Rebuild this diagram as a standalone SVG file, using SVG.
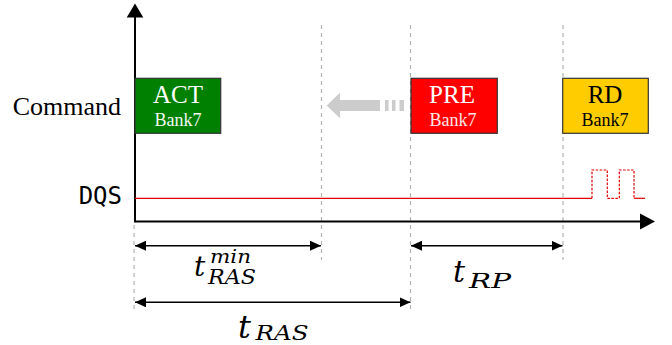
<svg xmlns="http://www.w3.org/2000/svg" width="672" height="345" viewBox="0 0 672 345">
<defs>
<style>
.guide{stroke:#b3b3b3;stroke-width:1.2;stroke-dasharray:4,4;fill:none}
.axis{stroke:#000;stroke-width:2;fill:none}
.dim{stroke:#000;stroke-width:1.5;fill:none}
.serif{font-family:"Liberation Serif","Times New Roman",serif}
.math{font-family:"DejaVu Serif","Liberation Serif",serif;font-style:italic;font-weight:normal;fill:#000}
.box{stroke:#333;stroke-width:1.2}
</style>
<marker id="ah" viewBox="0 0 11 10" refX="11" refY="5" markerWidth="11" markerHeight="10" markerUnits="userSpaceOnUse" orient="auto-start-reverse">
<path d="M0,0 L11,5 L0,10 Z" fill="#000"/>
</marker>
</defs>
<rect width="672" height="345" fill="#fff"/>
<g id="guides">
<line class="guide" x1="134" y1="225" x2="134" y2="312"/>
<line class="guide" x1="321.5" y1="25" x2="321.5" y2="260"/>
<line class="guide" x1="410.5" y1="25" x2="410.5" y2="312"/>
<line class="guide" x1="563" y1="25" x2="563" y2="260"/>
</g>
<g id="axes">
<line class="axis" x1="135" y1="222" x2="135" y2="16"/>
<polygon points="135,3.5 126.7,17.5 143.3,17.5" fill="#000"/>
<line class="axis" x1="134" y1="221.5" x2="642" y2="221.5"/>
<polygon points="655,221.5 640,213.5 640,229.5" fill="#000"/>
</g>
<g id="labels">
<text class="serif" x="121" y="115" font-size="26" text-anchor="end" fill="#000">Command</text>
<text x="122" y="204" font-family="'DejaVu Sans Mono','Liberation Mono',monospace" font-size="24" text-anchor="end" fill="#000">DQS</text>
</g>
<g id="dqs-signal">
<polyline points="135,198.3 592,198.3" stroke="#e00000" stroke-width="1.2" fill="none"/>
<polyline points="592,198.3 592,170 607.3,170 607.3,198.3 619.3,198.3 619.3,170 634,170 634,198.3" stroke="#e00000" stroke-width="1.2" fill="none" stroke-dasharray="2.5,1.5"/>
<line x1="634" y1="198.3" x2="645" y2="198.3" stroke="#e00000" stroke-width="1.2"/>
</g>
<g id="act">
<rect class="box" x="135" y="78.3" width="85.7" height="55" fill="#008000"/>
<text class="serif" x="178" y="102.7" font-size="25" text-anchor="middle" fill="#fff">ACT</text>
<text class="serif" x="178" y="126" font-size="18" text-anchor="middle" fill="#f2faf2">Bank7</text>
</g>
<g id="pre">
<rect class="box" x="411" y="78.3" width="86.3" height="55" fill="#ff0000"/>
<text class="serif" x="452" y="102.7" font-size="25" text-anchor="middle" fill="#fff">PRE</text>
<text class="serif" x="453" y="126" font-size="18" text-anchor="middle" fill="#ffe6e6">Bank7</text>
</g>
<g id="rd">
<rect class="box" x="562.7" y="78.3" width="85.6" height="55" fill="#ffcc00"/>
<text class="serif" x="605" y="102.7" font-size="25" text-anchor="middle" fill="#000">RD</text>
<text class="serif" x="605" y="126" font-size="18" text-anchor="middle" fill="#000">Bank7</text>
</g>
<g id="move-arrow" fill="#cccccc">
<polygon points="326.7,105.5 340,92.7 340,100 380,100 380,111 340,111 340,118.3"/>
<rect x="385" y="100" width="3.5" height="11"/>
<rect x="392" y="100" width="3.5" height="11"/>
<rect x="399.5" y="100" width="4.5" height="11"/>
</g>
<g id="connectors">
<line class="dim" x1="135" y1="245.7" x2="321" y2="245.7" marker-start="url(#ah)" marker-end="url(#ah)"/>
<line class="dim" x1="411" y1="245.7" x2="562.5" y2="245.7" marker-start="url(#ah)" marker-end="url(#ah)"/>
<line class="dim" x1="135" y1="302.3" x2="410.5" y2="302.3" marker-start="url(#ah)" marker-end="url(#ah)"/>
</g>
<g id="t-ras-min">
<text class="math" x="194" y="275.5" font-size="28">t</text>
<text class="math" x="210" y="262.5" font-size="19" textLength="41" lengthAdjust="spacingAndGlyphs">min</text>
<text class="math" x="208" y="284" font-size="21" textLength="48" lengthAdjust="spacingAndGlyphs">RAS</text>
</g>
<g id="t-rp">
<text class="math" x="453" y="281.5" font-size="30">t</text>
<text class="math" x="469" y="288" font-size="21" textLength="42" lengthAdjust="spacingAndGlyphs">RP</text>
</g>
<g id="t-ras">
<text class="math" x="238" y="337.5" font-size="32">t</text>
<text class="math" x="255.5" y="340" font-size="21" textLength="53" lengthAdjust="spacingAndGlyphs">RAS</text>
</g>
</svg>
